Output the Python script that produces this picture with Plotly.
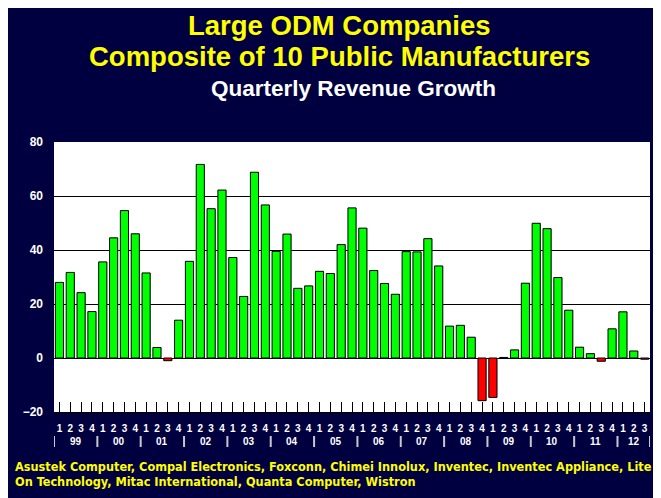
import plotly.graph_objects as go

years = ["99", "00", "01", "02", "03", "04", "05", "06", "07", "08", "09", "10", "11", "12"]
quarters_per_year = [4, 4, 4, 4, 4, 4, 4, 4, 4, 4, 4, 4, 4, 3]
growth = [
    28.0, 31.7, 24.2, 17.2,   # 99
    35.6, 44.5, 54.6, 46.0,   # 00
    31.5, 3.9, -1.0, 14.0,    # 01
    35.8, 71.7, 55.3, 62.2,   # 02
    37.2, 22.8, 68.8, 56.7,   # 03
    39.5, 45.9, 25.8, 26.7,   # 04
    32.1, 31.3, 42.0, 55.6,   # 05
    48.1, 32.4, 27.6, 23.6,   # 06
    39.4, 39.3, 44.2, 34.1,   # 07
    11.8, 12.1, 7.7, -15.8,   # 08
    -14.6, 0.2, 3.0, 27.7,    # 09
    49.9, 47.9, 29.8, 17.7,   # 10
    4.0, 1.6, -1.2, 10.8,     # 11
    17.1, 2.6, -0.4,          # 12
]
title_lines = ["Large ODM Companies", "Composite of 10 Public Manufacturers"]
subtitle = "Quarterly Revenue Growth"
footer_lines = [
    "Asustek Computer, Compal Electronics, Foxconn, Chimei Innolux, Inventec, Inventec Appliance, Lite",
    "On Technology, Mitac International, Quanta Computer, Wistron",
]

# derived
quarter_labels = []
year_centers = []
bounds = [-0.5]
pos = 0
for y, n in zip(years, quarters_per_year):
    quarter_labels += [str(q) for q in range(1, n + 1)]
    year_centers.append(pos + (n - 1) / 2)
    pos += n
    bounds.append(pos - 0.5)
xs = list(range(len(growth)))
colors = ["#00FF00" if v >= 0 else "#FF0000" for v in growth]

NAVY = "#000040"
OFF = 8  # page body margin
W, H = 661 - OFF, 498 - OFF
L, R, T, B = 54 - OFF, 11, 142 - OFF, 86
PW, PH = W - L - R, H - T - B


def px_x(p):  # p in window pixels
    return (p - OFF - L) / PW


def px_y(p):
    return (H - B - (p - OFF)) / PH


fig = go.Figure()
# shadow
fig.add_trace(go.Bar(
    x=xs, y=growth, width=0.75, offset=-0.34,
    marker=dict(color="#909090", line=dict(width=0)),
    hoverinfo="skip", showlegend=False,
))
fig.add_trace(go.Bar(
    x=xs, y=growth, width=0.75,
    marker=dict(color=colors, line=dict(color="black", width=1)),
    showlegend=False,
))

font = "Liberation Sans, Arial, sans-serif"
narrow = "DejaVu Sans Condensed, Liberation Sans Narrow, sans-serif"

fig.update_layout(
    width=W, height=H, autosize=False,
    margin=dict(l=L, r=R, t=T, b=B),
    paper_bgcolor=NAVY, plot_bgcolor="white",
    barmode="overlay", bargap=0.25,
    font=dict(family=font, color="white"),
)
fig.update_xaxes(
    range=[-0.5, len(growth) - 0.5],
    tickmode="array", tickvals=xs, ticktext=quarter_labels,
    ticks="inside", ticklen=10, tickcolor="black", tickwidth=1,
    tickfont=dict(family=font, size=10, color="white", weight="bold"),
    ticklabelstandoff=7,
    showgrid=False, showline=True, linecolor="black", linewidth=1,
    zeroline=False, fixedrange=True,
)
fig.update_yaxes(
    range=[-20, 80], dtick=20, tick0=0,
    showgrid=True, gridcolor="black", gridwidth=1,
    zeroline=True, zerolinecolor="black", zerolinewidth=1,
    ticks="", ticklabelstandoff=10,
    tickfont=dict(family=font, size=12, color="white", weight="bold"),
    showline=False, fixedrange=True,
)

ann = []
# titles
ann.append(dict(text="<b>%s</b>" % title_lines[0], x=px_x(339), y=px_y(25), xref="paper", yref="paper",
                showarrow=False, xanchor="center", yanchor="middle",
                font=dict(family=font, size=27.5, color="#FFFF00")))
ann.append(dict(text="<b>%s</b>" % title_lines[1], x=px_x(339), y=px_y(57), xref="paper", yref="paper",
                showarrow=False, xanchor="center", yanchor="middle",
                font=dict(family=font, size=27.5, color="#FFFF00")))
ann.append(dict(text="<b>%s</b>" % subtitle, x=px_x(353), y=px_y(88), xref="paper", yref="paper",
                showarrow=False, xanchor="center", yanchor="middle",
                font=dict(family=font, size=22.5, color="white")))
# year labels
for yl, c in zip(years, year_centers):
    ann.append(dict(text="<b>%s</b>" % yl, x=c, y=px_y(441), xref="x", yref="paper",
                    showarrow=False, xanchor="center", yanchor="middle",
                    font=dict(family=font, size=10, color="white")))
# footer
for i, line in enumerate(footer_lines):
    ann.append(dict(text="<b>%s</b>" % line, x=px_x(13), y=px_y(466 + 15 * i), xref="paper", yref="paper",
                    showarrow=False, xanchor="left", yanchor="middle",
                    font=dict(family=narrow, size=12.6, color="#FFFF00")))
fig.update_layout(annotations=ann)

shapes = []
for b in bounds:
    shapes.append(dict(type="line", xref="x", yref="paper", x0=b, x1=b,
                       y0=px_y(436), y1=px_y(447), line=dict(color="#C8C8C8", width=2)))
fig.update_layout(shapes=shapes)

fig.write_html("out.html")
